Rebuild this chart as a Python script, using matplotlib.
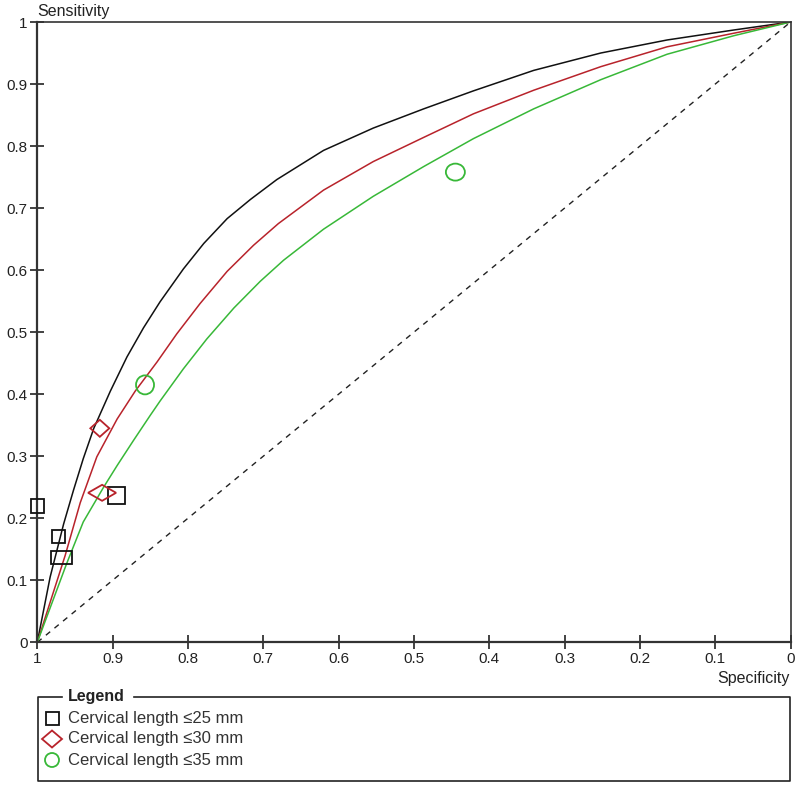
import matplotlib
matplotlib.use("Agg")
import matplotlib.pyplot as plt
from matplotlib.patches import Rectangle, Polygon, Ellipse
from matplotlib.lines import Line2D
import matplotlib.transforms as mtransforms

plt.rcParams['font.family'] = ['Liberation Sans', 'DejaVu Sans']

# SROC curves (specificity, sensitivity)
spec_25 = [1.0, 0.983, 0.965, 0.952, 0.939, 0.925, 0.903, 0.881, 0.859, 0.837, 0.806,
           0.779, 0.748, 0.717, 0.682, 0.620, 0.554, 0.487, 0.421, 0.341, 0.252, 0.164,
           0.076, 0.0]
sens_25 = [0.0, 0.105, 0.191, 0.245, 0.296, 0.345, 0.405, 0.460, 0.507, 0.549, 0.602,
           0.643, 0.683, 0.714, 0.746, 0.793, 0.829, 0.860, 0.889, 0.922, 0.950, 0.971,
           0.987, 1.0]

spec_30 = [1.0, 0.963, 0.943, 0.921, 0.894, 0.870, 0.841, 0.815, 0.784, 0.748, 0.713,
           0.680, 0.620, 0.554, 0.487, 0.421, 0.341, 0.252, 0.164, 0.075, 0.0]
sens_30 = [0.0, 0.140, 0.225, 0.299, 0.360, 0.405, 0.452, 0.497, 0.546, 0.598, 0.640,
           0.675, 0.729, 0.775, 0.814, 0.852, 0.890, 0.928, 0.960, 0.982, 1.0]

spec_35 = [1.0, 0.961, 0.939, 0.912, 0.894, 0.872, 0.850, 0.837, 0.806, 0.775, 0.739,
           0.704, 0.673, 0.620, 0.554, 0.487, 0.421, 0.341, 0.252, 0.164, 0.075, 0.0]
sens_35 = [0.0, 0.127, 0.194, 0.250, 0.285, 0.326, 0.366, 0.389, 0.441, 0.489, 0.539,
           0.582, 0.616, 0.666, 0.719, 0.767, 0.812, 0.860, 0.907, 0.948, 0.978, 1.0]

# individual studies
study_spec_25 = [0.968, 0.9725, 1.0, 0.895]
study_sens_25 = [0.137, 0.171, 0.219, 0.237]
study_spec_30 = [0.917, 0.914]
study_sens_30 = [0.345, 0.241]
study_spec_35 = [0.857, 0.445]
study_sens_35 = [0.415, 0.758]

# symbol sizes in pixels (width, height)
size_25 = [(21, 13), (13, 13), (13, 14), (17, 17)]
size_30 = [(19, 17), (28, 16)]
size_35 = [(18, 19), (19, 17)]

tick_vals = [0, 0.1, 0.2, 0.3, 0.4, 0.5, 0.6, 0.7, 0.8, 0.9, 1]
tick_labels = ['0', '0.1', '0.2', '0.3', '0.4', '0.5', '0.6', '0.7', '0.8', '0.9', '1']
legend_labels = ['Cervical length \u226425 mm', 'Cervical length \u226430 mm',
                 'Cervical length \u226435 mm']

col_25 = '#111111'
col_30 = '#b8232b'
col_35 = '#38b838'

fig = plt.figure(figsize=(8.0, 7.85), dpi=100)
ax = fig.add_axes([37.3 / 800, 142.7 / 785, 753.3 / 800, 620.3 / 785])
ax.set_xlim(1, 0)
ax.set_ylim(0, 1)

ax.plot([1, 0], [0, 1], color='#222222', lw=1.0, ls=(0, (4, 4)))
ax.plot(spec_25, sens_25, color=col_25, lw=1.1)
ax.plot(spec_30, sens_30, color=col_30, lw=1.1)
ax.plot(spec_35, sens_35, color=col_35, lw=1.1)


def shape(kind, w_px, h_px, offset, color):
    w = w_px / 100.0
    h = h_px / 100.0
    trans = fig.dpi_scale_trans + offset
    if kind == 's':
        p = Rectangle((-w / 2, -h / 2), w, h)
    elif kind == 'D':
        p = Polygon([(-w / 2, 0), (0, h / 2), (w / 2, 0), (0, -h / 2)], closed=True)
    else:
        p = Ellipse((0, 0), w, h)
    p.set_transform(trans)
    p.set_facecolor('none')
    p.set_edgecolor(color)
    p.set_linewidth(1.3)
    p.set_clip_on(False)
    p.set_zorder(5)
    return p


for xs, ys, sz, kind, c in [(study_spec_25, study_sens_25, size_25, 's', col_25),
                            (study_spec_30, study_sens_30, size_30, 'D', col_30),
                            (study_spec_35, study_sens_35, size_35, 'o', col_35)]:
    for x, y, (w, h) in zip(xs, ys, sz):
        fig.add_artist(shape(kind, w, h, mtransforms.ScaledTranslation(x, y, ax.transData), c))

ax.set_xticks(tick_vals)
ax.set_xticklabels(tick_labels)
ax.set_yticks(tick_vals)
ax.set_yticklabels(tick_labels)
ax.tick_params(direction='inout', length=10, width=1.2, labelsize=11, colors='#222222',
               pad=2)
for s in ax.spines.values():
    s.set_linewidth(1.2)
    s.set_color('#333333')
ax.spines['left'].set_linewidth(1.6)
ax.spines['bottom'].set_linewidth(1.6)

fig.text(37 / 800, 1 - 16 / 785, 'Sensitivity', fontsize=11.5, color='#222222',
         ha='left', va='baseline')
fig.text(790 / 800, 1 - 683 / 785, 'Specificity', fontsize=11.5, color='#222222',
         ha='right', va='baseline')

# legend box with the title breaking the top border
L, R, T, B = 38, 790, 697, 781
fx = lambda px: px / 800.0
fy = lambda py: 1 - py / 785.0
box = Line2D([fx(62), fx(L), fx(L), fx(R), fx(R), fx(134)],
             [fy(T), fy(T), fy(B), fy(B), fy(T), fy(T)],
             transform=fig.transFigure, color='#222222', lw=1.2)
fig.add_artist(box)
fig.text(fx(68), fy(T), 'Legend', fontsize=11.5, fontweight='bold', color='#222222',
         ha='left', va='center')

rows = [718, 739, 760]
kinds = ['s', 'D', 'o']
cols = [col_25, col_30, col_35]
lsizes = [(13, 13), (20, 17), (14, 14)]
for py, lab, kind, c, (w, h) in zip(rows, legend_labels, kinds, cols, lsizes):
    fig.add_artist(shape(kind, w, h, mtransforms.ScaledTranslation(fx(52), fy(py), fig.transFigure), c))
    fig.text(fx(68), fy(py), lab, fontsize=12, color='#333333', ha='left', va='center')

fig.savefig('out.png', dpi=100)
